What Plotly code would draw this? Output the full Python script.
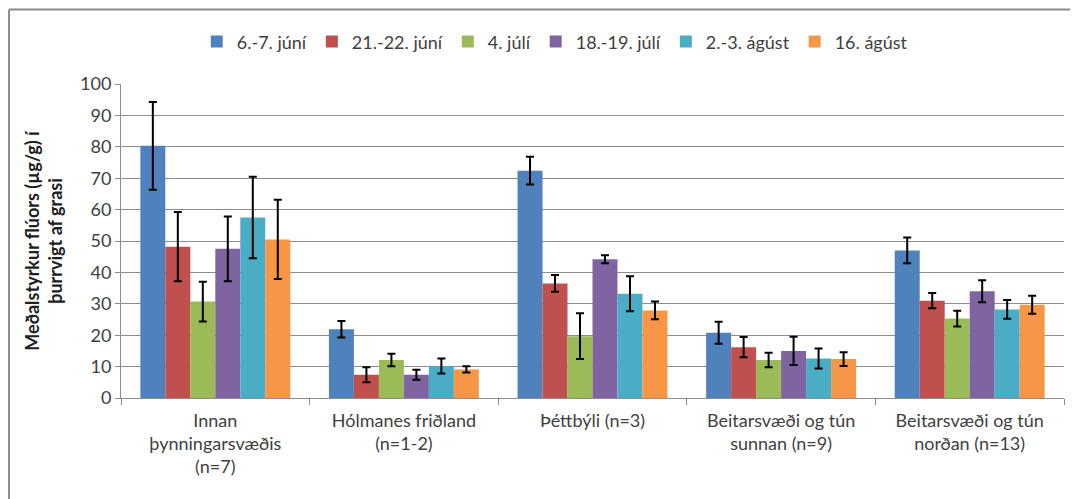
import plotly.graph_objects as go

categories = [
    "Innan<br>þynningarsvæðis<br>(n=7)",
    "Hólmanes friðland<br>(n=1-2)",
    "Þéttbýli (n=3)",
    "Beitarsvæði og tún<br>sunnan (n=9)",
    "Beitarsvæði og tún<br>norðan (n=13)",
]

series_names = ["6.-7. júní", "21.-22. júní", "4. júlí", "18.-19. júlí", "2.-3. ágúst", "16. ágúst"]

jun_6 = [80.3, 21.9, 72.4, 20.8, 47.0]
jun_21 = [48.2, 7.4, 36.5, 16.2, 31.0]
jul_4 = [30.7, 12.1, 19.7, 12.1, 25.3]
jul_18 = [47.5, 7.4, 44.2, 15.0, 34.0]
aug_2 = [57.5, 10.2, 33.2, 12.6, 28.2]
aug_16 = [50.5, 9.1, 27.9, 12.4, 29.7]

err_jun_6 = [14.0, 2.6, 4.4, 3.5, 4.1]
err_jun_21 = [11.0, 2.4, 2.7, 3.2, 2.4]
err_jul_4 = [6.3, 2.0, 7.3, 2.3, 2.5]
err_jul_18 = [10.3, 1.6, 1.3, 4.5, 3.5]
err_aug_2 = [13.0, 2.4, 5.6, 3.2, 3.0]
err_aug_16 = [12.6, 1.0, 2.8, 2.2, 2.9]

values = [jun_6, jun_21, jul_4, jul_18, aug_2, aug_16]
errors = [err_jun_6, err_jun_21, err_jul_4, err_jul_18, err_aug_2, err_aug_16]
colors = ['#4F81BD', '#C0504D', '#9BBB59', '#8064A2', '#4BACC6', '#F79646']

FONT = 'Lato'

fig = go.Figure()
for name, vals, errs, color in zip(series_names, values, errors, colors):
    fig.add_trace(go.Bar(
        x=categories,
        y=vals,
        name=name,
        marker=dict(color=color, line=dict(width=0)),
        error_y=dict(type='data', array=errs, visible=True, color='black', thickness=2, width=4),
    ))

# page body has an 8px margin, so the figure is 8px smaller than the window
# chart frame: only top and left edges show in the original crop
border = dict(color='#8c8c8c', width=2)
fig.update_layout(
    width=1070,
    height=491,
    barmode='group',
    bargap=0.205,
    bargroupgap=0,
    plot_bgcolor='white',
    paper_bgcolor='white',
    font=dict(family=FONT, size=16, color='#404040'),
    margin=dict(l=113, r=14, t=76, b=101, autoexpand=False),
    showlegend=True,
    legend=dict(
        orientation='h', x=0.46, xanchor='center', y=1.134, yanchor='middle',
        font=dict(family=FONT, size=18, color='#404040'),
        itemwidth=30, traceorder='normal', bgcolor='rgba(0,0,0,0)',
    ),
    shapes=[
        dict(type='line', xref='paper', yref='paper', x0=-0.1188, x1=1.02, y0=1.2372, y1=1.2372, line=border),
        dict(type='line', xref='paper', yref='paper', x0=-0.1188, x1=-0.1188, y0=-0.33, y1=1.2372, line=border),
    ],
)

fig.update_yaxes(
    range=[0, 100], dtick=10,
    showgrid=True, gridcolor='#8c8c8c', gridwidth=1,
    showline=True, linecolor='#8c8c8c', linewidth=1,
    ticks='outside', ticklen=5, tickcolor='#8c8c8c',
    tickfont=dict(family=FONT, size=18, color='#404040'),
    title=dict(
        text='<b>Meðalstyrkur flúors (µg/g) í<br>þurrvigt af grasi</b>',
        font=dict(family=FONT, size=18, color='#202020'), standoff=12,
    ),
    zeroline=False,
)

fig.update_xaxes(
    showline=True, linecolor='#8c8c8c', linewidth=1,
    ticks='outside', tickson='boundaries', ticklen=6, tickcolor='#8c8c8c',
    tickfont=dict(family=FONT, size=18, color='#404040'),
    ticklabelstandoff=6,
)

fig.write_html("out.html")
